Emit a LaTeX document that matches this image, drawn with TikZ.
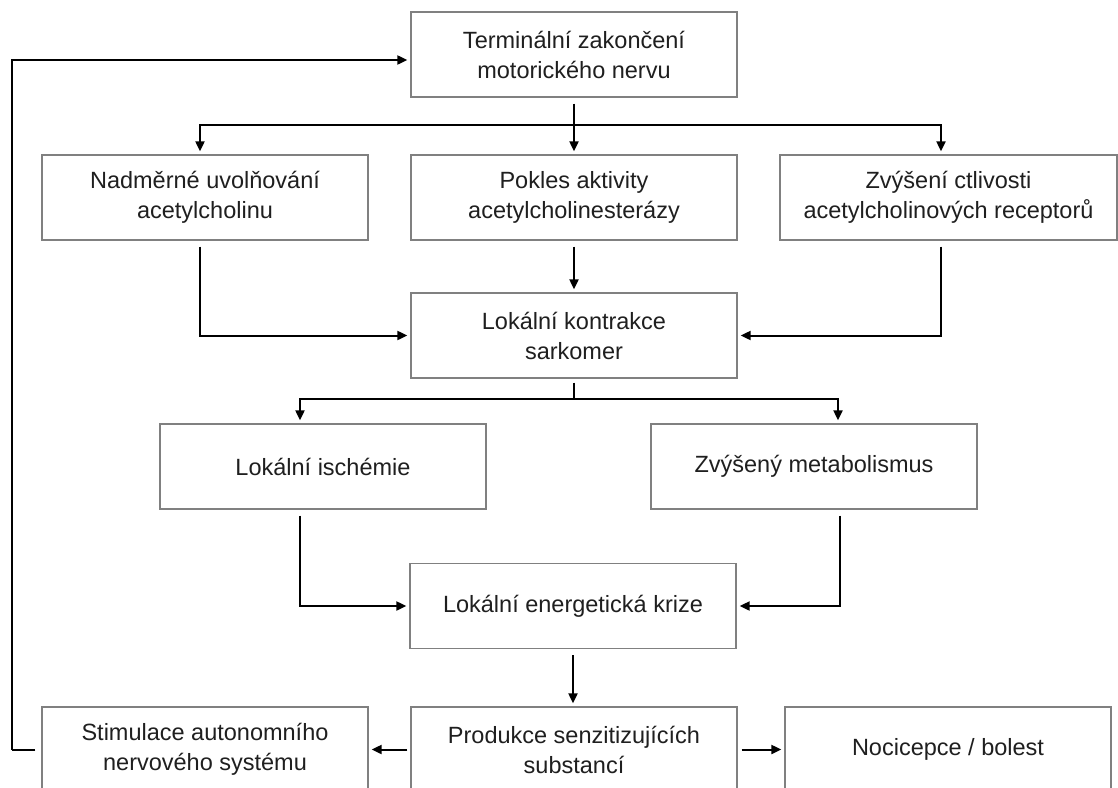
\documentclass[tikz,border=0pt]{standalone}
\usepackage{fontspec}
\setmainfont{Liberation Sans}
\usetikzlibrary{arrows.meta}
\begin{document}
\begin{tikzpicture}[x=1pt,y=-1pt,
  box/.style={draw=black!50,line width=1.3pt,rectangle,minimum width=326pt,minimum height=85pt,
    align=center,inner sep=0pt,text=black!88,font=\fontsize{23.5}{30}\selectfont},
  conn/.style={draw=black,line width=2pt},
  arr/.style={conn,-{Triangle[length=10pt,width=9pt]},shorten >=3pt},
  gap/.style={shorten <=6pt}]
\clip (0,0) rectangle (1118,787);
\fill[white] (0,0) rectangle (1118,787);
\node[box] (top) at (574,54.5) {Terminální zakončení\\motorického nervu};
\node[box] (nad) at (205,197.5) {Nadměrné uvolňování\\acetylcholinu};
\node[box] (pok) at (574,197.5) {Pokles aktivity\\acetylcholinesterázy};
\node[box,minimum width=337pt] (zvy) at (948.5,197.5) {Zvýšení ctlivosti\\acetylcholinových receptorů};
\node[box] (kon) at (574,335.5) {Lokální kontrakce\\sarkomer};
\node[box] (isc) at (323,466.5) {Lokální ischémie};
\node[box] (met) at (814,466.5) {Zvýšený metabolismus};
\node[box] (ene) at (573,606) {Lokální energetická krize};
\node[box] (sti) at (205,749.5) {Stimulace autonomního\\nervového systému};
\node[box] (pro) at (574,749.5) {Produkce senzitizujících\\substancí};
\node[box] (noc) at (948,749.5) {Nocicepce / bolest};
% split after top box
\coordinate (s1) at (574,125);
\draw[arr,gap] (top.south) -- (pok.north);
\draw[conn] (s1) -- (200,125);
\draw[arr] (s1) -| ([xshift=-5pt]nad.north);
\draw[arr] (s1) -| ([xshift=-7.5pt]zvy.north);
% into contraction
\draw[arr,gap] ([xshift=-5pt]nad.south) |- (kon.west);
\draw[arr,gap] (pok.south) -- (kon.north);
\draw[arr,gap] ([xshift=-7.5pt]zvy.south) |- (kon.east);
% split after contraction
\coordinate (s2) at (574,399);
\draw[conn,shorten <=4pt] (kon.south) -- (s2);
\draw[arr] (s2) -| ([xshift=-23pt]isc.north);
\draw[arr] (s2) -| ([xshift=24pt]met.north);
% into energy crisis
\draw[arr,gap] ([xshift=-23pt]isc.south) |- (ene.west);
\draw[arr,gap] ([xshift=26pt]met.south) |- (ene.east);
\draw[arr,gap] (ene.south) -- (ene.south |- pro.north);
% bottom row
\draw[arr,shorten <=3pt] (pro.west) -- (sti.east);
\draw[arr,shorten <=4pt] (pro.east) -- (noc.west);
% feedback loop
\coordinate (fb) at (12,749.5);
\draw[conn,shorten <=6pt] (sti.west) -- (fb);
\draw[arr] (fb) |- ([yshift=-5.5pt]top.west);
\end{tikzpicture}
\end{document}
